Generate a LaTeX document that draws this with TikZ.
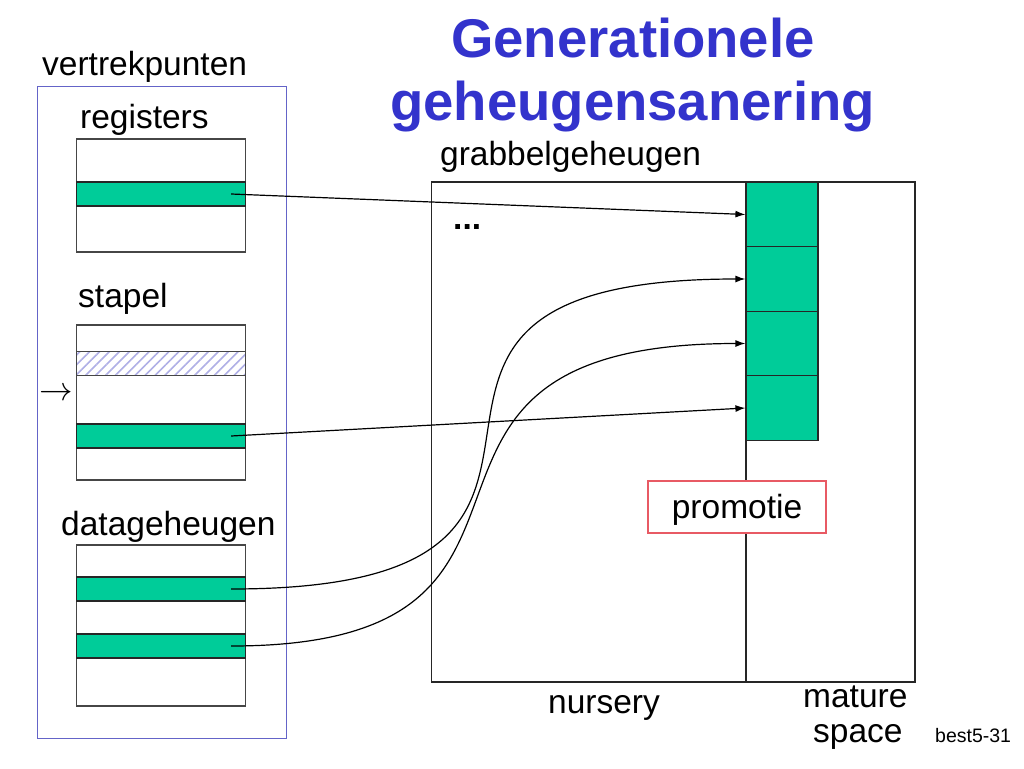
\RequirePackage{fix-cm}
\documentclass[tikz,border=0pt]{standalone}
\usepackage{fontspec}
\setmainfont{Liberation Sans}
\usepackage{tikz}
\usetikzlibrary{arrows.meta,patterns.meta,positioning}

\definecolor{slotgreen}{RGB}{0,204,153}
\definecolor{titleblue}{RGB}{51,51,204}
\definecolor{frameblue}{RGB}{100,100,200}
\definecolor{hatchblue}{RGB}{175,175,230}
\definecolor{boxgray}{RGB}{70,70,70}
\definecolor{promored}{RGB}{232,90,100}

\begin{document}
\begin{tikzpicture}[x=1pt,y=-1pt,
  lbl/.style={font=\fontsize{33.5}{40}\selectfont,inner sep=0,anchor=base west},
  box/.style={draw=boxgray,line width=1.2pt,fill=white,inner sep=0,minimum width=169pt},
  band/.style={draw=black!85,line width=1.2pt,fill=slotgreen,inner sep=0,minimum width=169pt,minimum height=24pt},
  cell/.style={draw=black!85,line width=1.2pt,fill=slotgreen,inner sep=0,minimum width=72pt,minimum height=64.5pt},
  conn/.style={-{Latex[length=10pt,width=7pt]},line width=1.2pt}]
  \useasboundingbox (0,0) rectangle (1024,768);
  % titel
  \node [font=\fontsize{54.5}{60}\selectfont\bfseries,text=titleblue,inner sep=0,anchor=base] (title1) at (633,58) {Generationele};
  \node [font=\fontsize{54.5}{60}\selectfont\bfseries,text=titleblue,inner sep=0,anchor=base] (title2) at (632.5,120) {geheugensanering};
  % vertrekpunten
  \node [draw=frameblue,line width=1pt,inner sep=0,minimum width=249pt,minimum height=652pt] (roots) at (161.5,412) {};
  \node [lbl] (rootslbl) at (42,75) {vertrekpunten};
  \node [lbl] (reglbl) at (80,128) {registers};
  \node [box,minimum height=113pt] (regbox) at (161,195.5) {};
  \node [band] (regband) at (161,194) {};
  \node [lbl] (stacklbl) at (78,307) {stapel};
  \node [box,minimum height=155pt] (stackbox) at (161,402.5) {};
  \node [draw=boxgray,line width=1.2pt,inner sep=0,minimum width=169pt,minimum height=23.6pt,
         pattern={Lines[angle=45,distance=7pt,line width=1.6pt]},pattern color=hatchblue] (stackhatch) at (161,363.5) {};
  \node [band] (stackband) at (161,436) {};
  \node [lbl,anchor=center] (sp) at (56,394) {$\rightarrow$};
  \node [lbl] (datalbl) at (61,535) {datageheugen};
  \node [box,minimum height=161pt] (databox) at (161,625.5) {};
  \node [band] (databand1) at (161,589) {};
  \node [band] (databand2) at (161,646) {};
  % grabbelgeheugen
  \node [lbl] (heaplbl) at (440,165) {grabbelgeheugen};
  \node [draw=black!85,line width=1.2pt,inner sep=0,minimum width=483.5pt,minimum height=500pt] (heap) at (673.25,432) {};
  \draw [black!85,line width=1.2pt] (746,182) -- (746,682);
  \foreach \i/\y in {1/214.5,2/279,3/343.5,4/408}
    \node [cell] (c\i) at (782,\y) {};
  \node [lbl,font=\fontsize{33.5}{40}\selectfont\bfseries] (dots) at (453,229) {...};
  \node [draw=promored,line width=1.2pt,fill=white,inner sep=0,minimum width=178pt,minimum height=52pt,
         text height=29pt,text depth=7pt,font=\fontsize{33.5}{40}\selectfont] (promo) at (737,507) {promotie};
  \node [lbl] (nurslbl) at (548,713) {nursery};
  \node [lbl] (matlbl) at (803,707) {mature};
  \node [lbl] (spacelbl) at (813,742) {space};
  \node [lbl,font=\fontsize{19.5}{24}\selectfont] (slide) at (935,742) {best5-31};
  % verwijzingen
  \draw [conn] ([xshift=-15pt]regband.east) -- (c1.west);
  \draw [conn] ([xshift=-15pt]stackband.east) -- (c4.west);
  \draw [conn] ([xshift=-15pt]databand1.east) .. controls +(462,0) and +(-462,0) .. (c2.west);
  \draw [conn] ([xshift=-15pt]databand2.east) .. controls +(386,0) and +(-410,0) .. (c3.west);
\end{tikzpicture}
\end{document}
